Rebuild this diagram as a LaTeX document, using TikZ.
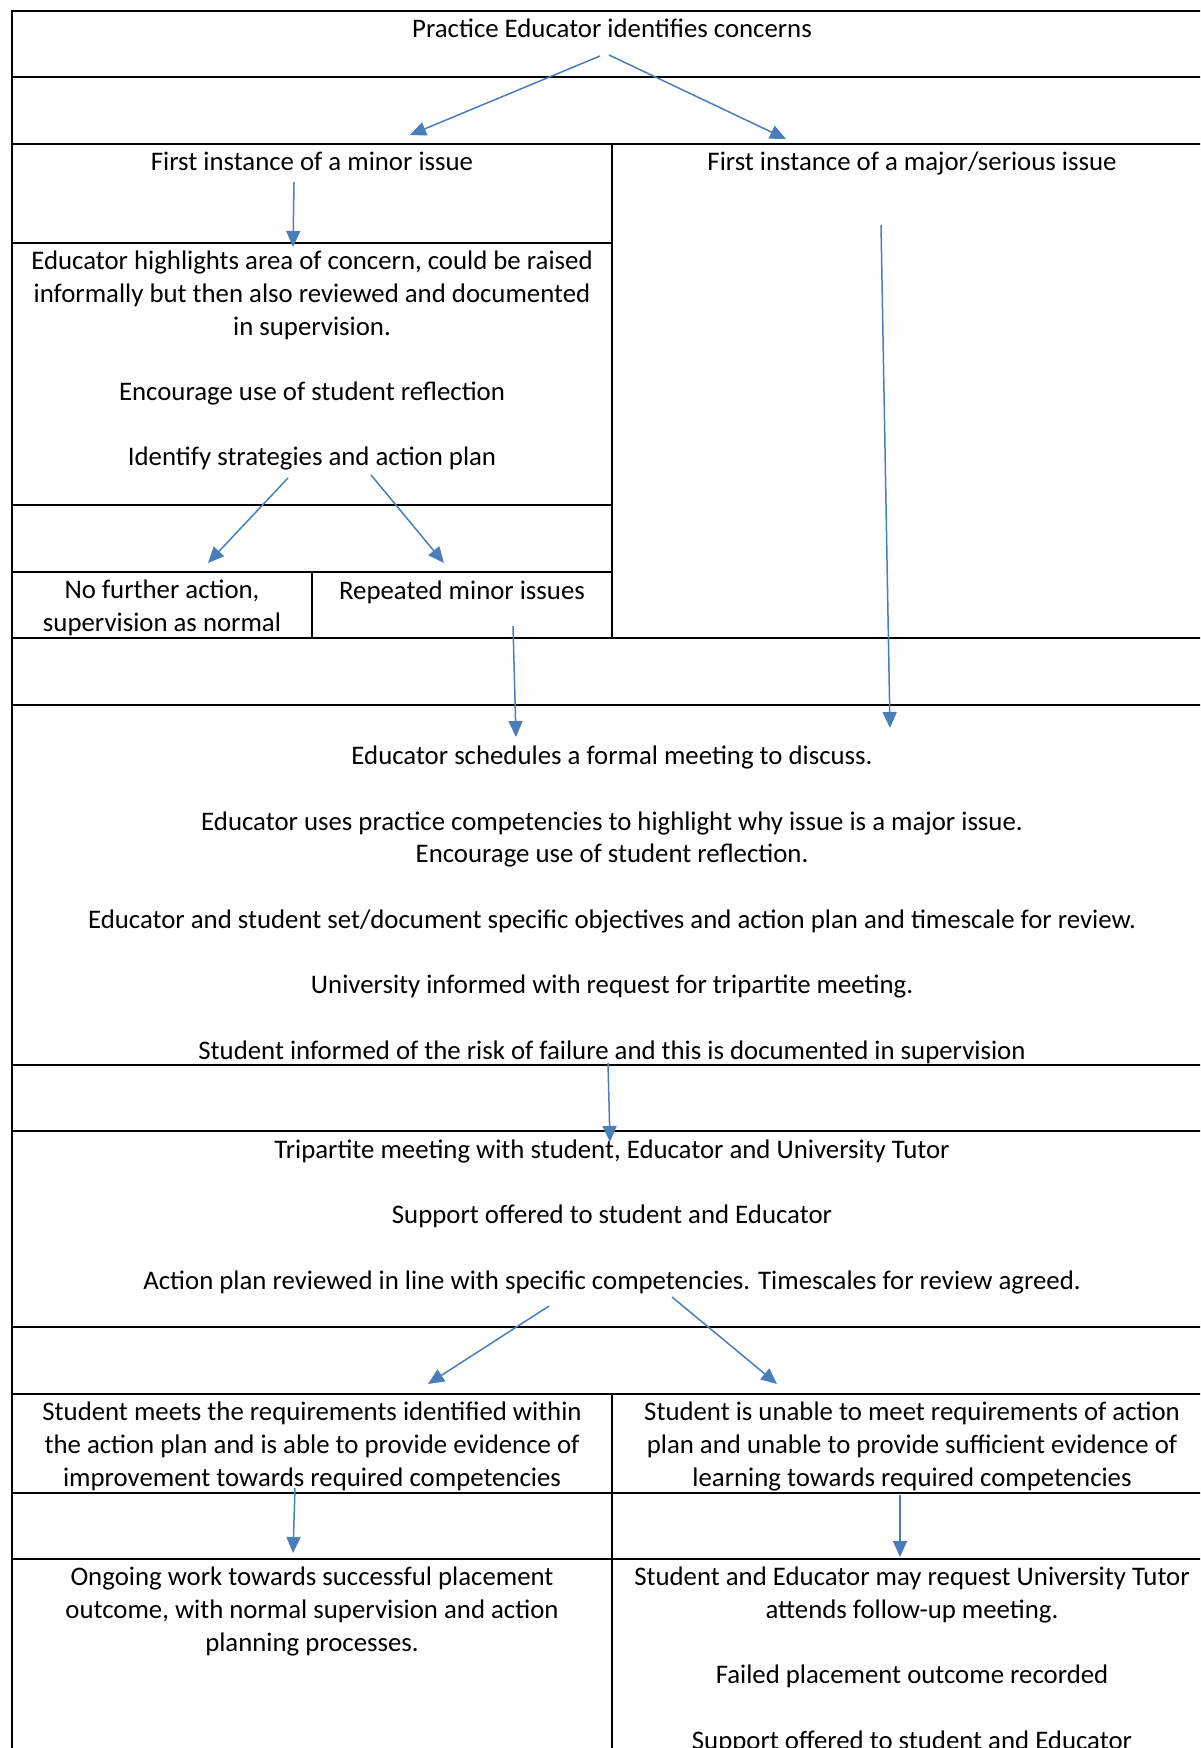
\documentclass[tikz,border=0pt]{standalone}
\usepackage{fontspec}
\setmainfont{Carlito}
\usetikzlibrary{arrows.meta}
\definecolor{arrowblue}{HTML}{4A7EBB}
\begin{document}
\begin{tikzpicture}[x=0.5pt,y=-0.5pt,
  grid/.style={line width=1pt, black, line cap=rect},
  txt/.style={anchor=base, align=center, inner sep=0pt, font=\fontsize{13.4pt}{16.35pt}\selectfont},
  flow/.style={arrowblue, line width=0.75pt, -{Triangle[length=8pt,width=7pt]}}]
\useasboundingbox (0,0) rectangle (1200,1748);
\clip (0,0) rectangle (1200,1748);
% grid
\draw[grid] (12,11) -- (1220,11);
\draw[grid] (12,77) -- (1220,77);
\draw[grid] (12,144) -- (1220,144);
\draw[grid] (12,243) -- (612,243);
\draw[grid] (12,505) -- (612,505);
\draw[grid] (12,572) -- (612,572);
\foreach \yy in {638,705,1065,1131,1327,1394,1493,1559}
  \draw[grid] (12,\yy) -- (1220,\yy);
\draw[grid] (12,11) -- (12,1760);
\draw[grid] (612,144) -- (612,638);
\draw[grid] (612,1394) -- (612,1760);
\draw[grid] (312,572) -- (312,638);
% texts (anchor base = baseline of the last line)
\def\gap{\\[16.35pt]}
\node[txt] (concerns) at (612,38) {Practice Educator identifies concerns};
\node[txt] (minor) at (312,171) {First instance of a minor issue};
\node[txt] (major) at (912,171) {First instance of a major/serious issue};
\node[txt] (highlight) at (312,466) {Educator highlights area of concern, could be raised\\informally but then also reviewed and documented\\in supervision.\gap Encourage use of student reflection\gap Identify strategies and action plan};
\node[txt] (nofurther) at (162,631) {No further action,\\supervision as normal};
\node[txt] (repeated) at (462,599) {Repeated minor issues};
\node[txt] (formal) at (612,1059) {Educator schedules a formal meeting to discuss.\gap Educator uses practice competencies to highlight why issue is a major issue.\\Encourage use of student reflection.\gap Educator and student set/document specific objectives and action plan and timescale for review.\gap University informed with request for tripartite meeting.\gap Student informed of the risk of failure and this is documented in supervision};
\node[txt] (tripartite) at (612,1289) {Tripartite meeting with student, Educator and University Tutor\gap Support offered to student and Educator\gap Action plan reviewed in line with specific competencies. Timescales for review agreed.};
\node[txt] (meets) at (312,1486) {Student meets the requirements identified within\\the action plan and is able to provide evidence of\\improvement towards required competencies};
\node[txt] (unable) at (912,1486) {Student is unable to meet requirements of action\\plan and unable to provide sufficient evidence of\\learning towards required competencies};
\node[txt] (ongoing) at (312,1651) {Ongoing work towards successful placement\\outcome, with normal supervision and action\\planning processes.};
\node[txt] (failed) at (912,1749) {Student and Educator may request University Tutor\\attends follow-up meeting.\gap Failed placement outcome recorded\gap Support offered to student and Educator};
% arrow ends
\coordinate (a1s) at (600,56);   \coordinate (a1e) at (410,135);
\coordinate (a2s) at (609,55);   \coordinate (a2e) at (786,139);
\coordinate (a3s) at (294,182);  \coordinate (a3e) at (293,247);
\coordinate (a4s) at (288,478);  \coordinate (a4e) at (208,563);
\coordinate (a5s) at (371,475);  \coordinate (a5e) at (444,563);
\coordinate (a6s) at (513,626);  \coordinate (a6e) at (516,737);
\coordinate (a7s) at (881,225);  \coordinate (a7e) at (890,728);
\coordinate (a8s) at (608,1063); \coordinate (a8e) at (610,1142);
\coordinate (a9s) at (549,1306); \coordinate (a9e) at (428,1384);
\coordinate (a10s) at (672,1297); \coordinate (a10e) at (777,1384);
\coordinate (a11s) at (295,1488); \coordinate (a11e) at (293,1553);
\coordinate (a12s) at (900,1495); \coordinate (a12e) at (900,1557);
\foreach \i in {1,...,12}
  \draw[flow] (a\i s) -- (a\i e);
\end{tikzpicture}
\end{document}
